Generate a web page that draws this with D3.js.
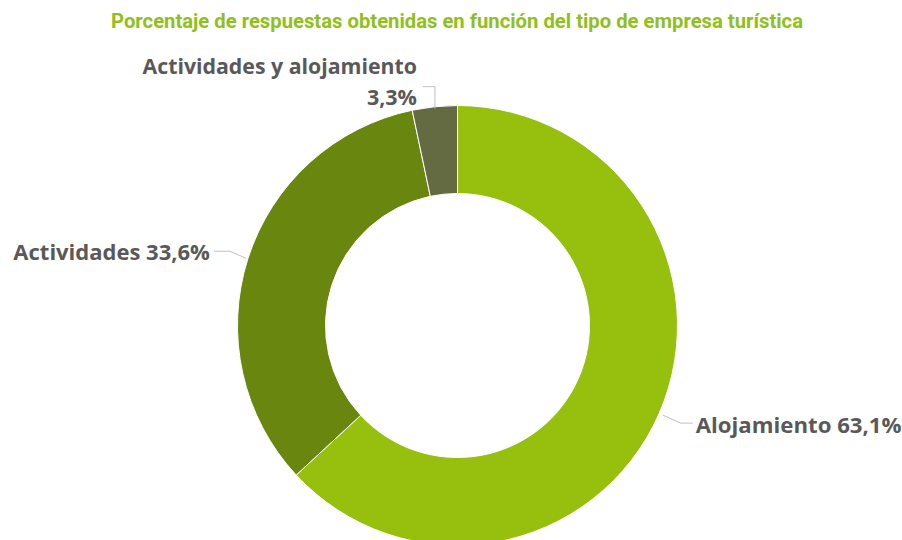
<!DOCTYPE html>
<html><head><meta charset="utf-8">
<script src="https://cdn.jsdelivr.net/npm/d3@7"></script>
<style>body{margin:0;background:#fff}svg{display:block}</style>
</head><body>
<script>
const categories = ["Alojamiento", "Actividades", "Actividades y alojamiento"];
const values = [63.1, 33.6, 3.3];
const colors = ["#97BF0D", "#69870F", "#646B43"];
const title = "Porcentaje de respuestas obtenidas en función del tipo de empresa turística";

const W = 902, H = 540;
const cx = 457.5, cy = 325.5, R = 220, r = 132;
const svg = d3.select("body").append("svg").attr("width", W).attr("height", H);

svg.append("text").attr("x", 457).attr("y", 28).attr("text-anchor", "middle")
  .attr("font-family", "Roboto, sans-serif").attr("font-weight", "bold")
  .attr("font-size", 19.5).attr("fill", "#8FC01C")
  .attr("textLength", 692).attr("lengthAdjust", "spacingAndGlyphs")
  .text(title);

const data = categories.map((c, i) => ({cat: c, value: values[i], color: colors[i]}));
const pie = d3.pie().value(d => d.value).sort(null);
const arc = d3.arc().innerRadius(r).outerRadius(R);
const g = svg.append("g").attr("transform", `translate(${cx},${cy})`);
const arcs = pie(data);
g.selectAll("path").data(arcs).join("path")
  .attr("d", arc).attr("fill", d => d.data.color)
  .attr("stroke", "#fff").attr("stroke-width", 1);

const fmt = v => d3.format(".1f")(v).replace(".", ",") + "%";
const labelFont = "'Open Sans', sans-serif";

const outerPt = (a, rad) => [cx + rad * Math.sin(a), cy - rad * Math.cos(a)];
const mid = d => (d.startAngle + d.endAngle) / 2;
const lineColor = "#BFBFBF";
const line = pts => svg.append("polyline").attr("points", pts.map(p => p.join(",")).join(" "))
    .attr("fill", "none").attr("stroke", lineColor).attr("stroke-width", 1);
const label = (x, y, anchor, txt, fs) => svg.append("text").attr("x", x).attr("y", y)
    .attr("text-anchor", anchor).attr("font-family", labelFont).attr("font-weight", "bold")
    .attr("font-size", fs).attr("fill", "#595959").text(txt);

// Alojamiento
{
  const d = arcs[0];
  const p0 = outerPt(mid(d), R + 4);
  const p1 = [p0[0] + 18, p0[1] + 8];
  const p2 = [p1[0] + 12, p1[1]];
  line([p0, p1, p2]);
  label(p2[0] + 3, p2[1] + 10, "start", `${d.data.cat} ${fmt(d.data.value)}`, 22.2);
}
// Actividades
{
  const d = arcs[1];
  const p0 = outerPt(mid(d), R + 2);
  const p1 = [p0[0] - 16, p0[1] - 7];
  const p2 = [p1[0] - 16, p1[1]];
  line([p0, p1, p2]);
  label(p2[0] - 4, p2[1] + 9, "end", `${d.data.cat} ${fmt(d.data.value)}`, 22);
}
// Actividades y alojamiento
{
  const d = arcs[2];
  const p0 = outerPt(mid(d), R - 2);
  const p1 = [p0[0], p0[1] - 22];
  const p2 = [p1[0] - 12, p1[1]];
  line([p0, p1, p2]);
  label(417, 74, "end", d.data.cat, 21.3);
  label(417, 105, "end", fmt(d.data.value), 21.5);
}
</script>
</body></html>
